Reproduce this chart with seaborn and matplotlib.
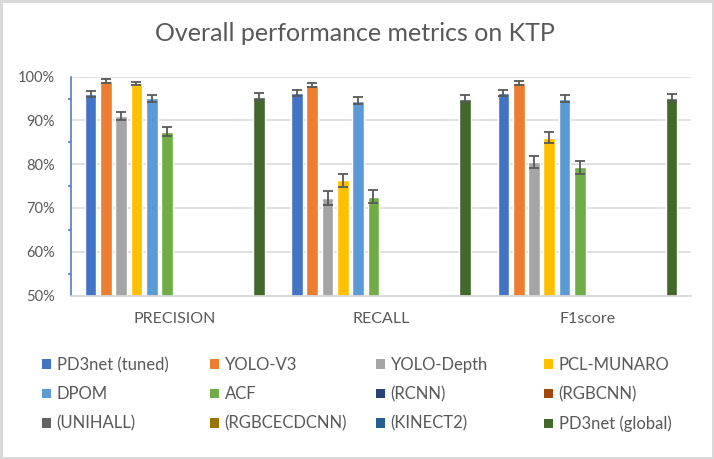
import matplotlib
matplotlib.use("Agg")
import matplotlib.pyplot as plt
import numpy as np
import pandas as pd
import seaborn as sns
from matplotlib.patches import Patch
from matplotlib.ticker import MultipleLocator, PercentFormatter

metrics = ["PRECISION", "RECALL", "F1score"]
methods = ["PD3net (tuned)", "YOLO-V3", "YOLO-Depth", "PCL-MUNARO",
           "DPOM", "ACF", "(RCNN)", "(RGBCNN)",
           "(UNIHALL)", "(RGBCECDCNN)", "(KINECT2)", "PD3net (global)"]
colors = ["#4472C4", "#ED7D31", "#A5A5A5", "#FFC000",
          "#5B9BD5", "#70AD47", "#264478", "#9E480E",
          "#636363", "#997300", "#255E91", "#43682B"]

# mean values (%) per method, ordered as metrics
precision = [96.0, 99.0, 91.0, 98.5, 95.1, 87.4, 0, 0, 0, 0, 0, 95.4]
recall = [96.3, 98.1, 72.2, 76.3, 94.5, 72.6, 0, 0, 0, 0, 0, 95.0]
f1score = [96.3, 98.6, 80.6, 86.1, 95.0, 79.3, 0, 0, 0, 0, 0, 95.2]

# error bar half widths (%)
precision_err = [0.7, 0.4, 1.0, 0.4, 0.8, 1.05, 0, 0, 0, 0, 0, 0.8]
recall_err = [0.7, 0.5, 1.6, 1.4, 0.85, 1.55, 0, 0, 0, 0, 0, 0.85]
f1score_err = [0.65, 0.5, 1.35, 1.2, 0.85, 1.45, 0, 0, 0, 0, 0, 0.85]

rows = []
for metric, vals, errs in zip(metrics, [precision, recall, f1score],
                              [precision_err, recall_err, f1score_err]):
    for m, v, e in zip(methods, vals, errs):
        rows.append({"metric": metric, "method": m, "value": v, "err": e})
df = pd.DataFrame(rows)

sns.set_style("white")
plt.rcParams["font.family"] = ["Lato", "DejaVu Sans"]
text_color = "#595959"
grid_color = "#D9D9D9"

fig = plt.figure(figsize=(7.14, 4.59), dpi=100)
ax = fig.add_axes([0.1001, 0.3562, 0.8673, 0.4767])

sns.barplot(data=df, x="metric", y="value", hue="method", order=metrics,
            hue_order=methods, palette=colors, width=0.889, gap=0.235,
            errorbar=None, saturation=1, ax=ax, legend=False)

for container, m in zip(ax.containers, methods):
    sub = df[df["method"] == m].set_index("metric").loc[metrics]
    for bar, (_, r) in zip(container, sub.iterrows()):
        if r["err"] > 0:
            ax.errorbar(bar.get_x() + bar.get_width() / 2, bar.get_height(),
                        yerr=r["err"], fmt="none", ecolor="#595959",
                        elinewidth=1.3, capsize=3.5, capthick=1.3, zorder=5)

ax.set_ylim(50, 100)
ax.set_xlim(-0.5, 2.5)
ax.yaxis.set_major_locator(MultipleLocator(10))
ax.yaxis.set_minor_locator(MultipleLocator(5))
ax.yaxis.set_major_formatter(PercentFormatter(decimals=0))
ax.grid(axis="y", which="major", color=grid_color, linewidth=1.1)
ax.set_axisbelow(True)
for s in ["top", "right"]:
    ax.spines[s].set_visible(False)
ax.spines["bottom"].set_color(grid_color)
ax.spines["bottom"].set_linewidth(1.3)
ax.spines["left"].set_color("#4472C4")
ax.spines["left"].set_linewidth(1.1)
ax.tick_params(axis="y", which="major", direction="out", length=4, width=1.1,
               color="#4472C4", labelsize=10.5, labelcolor=text_color, pad=8)
ax.tick_params(axis="y", which="minor", direction="out", length=2.5,
               width=1.1, color="#4472C4", left=True)
ax.tick_params(axis="x", length=0, labelsize=11.5, labelcolor=text_color,
               pad=12)
ax.set_xlabel("")
ax.set_ylabel("")

fig.text(0.497, 0.928, "Overall performance metrics on KTP", ha="center",
         va="center", fontsize=18, color=text_color)

handles = [Patch(facecolor=c, edgecolor="none") for c in colors]
col_x = [42, 210, 376, 544]
for i, x in enumerate(col_x):
    idx = [i, i + 4, i + 8]
    fig.legend([handles[j] for j in idx], [methods[j] for j in idx],
               loc="upper left", bbox_to_anchor=(x / 714, 1 - 357 / 459),
               frameon=False, fontsize=12, labelcolor=text_color,
               handlelength=0.53, handleheight=0.53, handletextpad=0.35,
               labelspacing=0.8, borderpad=0, borderaxespad=0)

fig.patch.set_edgecolor(grid_color)
fig.patch.set_linewidth(3.6)
fig.savefig("out.png", dpi=100, edgecolor=grid_color)
plt.close(fig)
